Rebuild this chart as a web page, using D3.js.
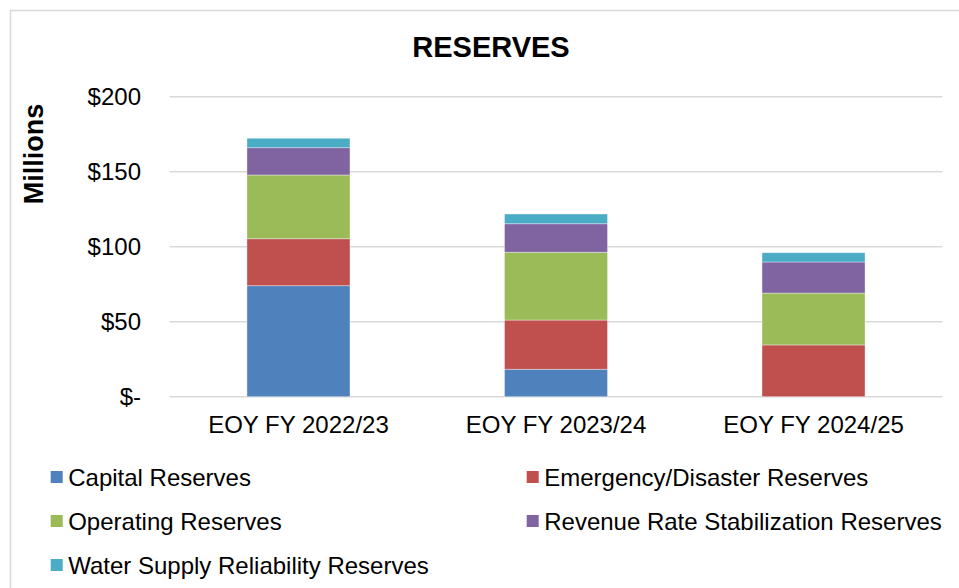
<!DOCTYPE html>
<html>
<head>
<meta charset="utf-8">
<script src="https://cdn.jsdelivr.net/npm/d3@7/dist/d3.min.js"></script>
<style>
  html, body { margin: 0; padding: 0; background: #fff; }
  svg { display: block; font-family: "Liberation Sans", Arial, sans-serif; }
</style>
</head>
<body>
<svg id="chart" width="959" height="588"></svg>
<script>
// Reserve balances at end of each fiscal year, in $ millions
const categories = ["EOY FY 2022/23", "EOY FY 2023/24", "EOY FY 2024/25"];
const seriesNames = [
  "Capital Reserves",
  "Emergency/Disaster Reserves",
  "Operating Reserves",
  "Revenue Rate Stabilization Reserves",
  "Water Supply Reliability Reserves"
];
const capital     = [74.0, 18.3, 0];
const emergency   = [31.3, 32.8, 34.5];
const operating   = [42.5, 45.2, 34.6];
const revenueRate = [18.2, 19.0, 20.7];
const waterSupply = [6.3, 6.5, 6.2];
const yTicks = [0, 50, 100, 150, 200];
const colors = ["#4F81BD", "#C0504D", "#9BBB59", "#8064A2", "#4BACC6"];

const seriesValues = [capital, emergency, operating, revenueRate, waterSupply];
const rows = categories.map((c, i) => {
  const r = { category: c };
  seriesNames.forEach((s, k) => { r[s] = seriesValues[k][i]; });
  return r;
});

const svg = d3.select("#chart");
const plot = { left: 169.7, right: 942.3, top: 96.7, bottom: 396.7 };
const labelSize = 24;

// chart frame
svg.append("rect")
  .attr("x", 10.5).attr("y", 10.5)
  .attr("width", 1000).attr("height", 1000)
  .attr("fill", "#fff").attr("stroke", "#D9D9D9").attr("stroke-width", 1.5);

const x = d3.scaleBand()
  .domain(categories)
  .range([plot.left, plot.right])
  .paddingInner(0.6)
  .paddingOuter(0.3);

const y = d3.scaleLinear()
  .domain([0, 200])
  .range([plot.bottom, plot.top]);

// horizontal gridlines
svg.append("g")
  .selectAll("line")
  .data(yTicks)
  .join("line")
  .attr("x1", plot.left).attr("x2", plot.right)
  .attr("y1", d => y(d)).attr("y2", d => y(d))
  .attr("stroke", "#D9D9D9").attr("stroke-width", 1.6);

// y axis labels
const yAxis = d3.axisLeft(y)
  .tickValues(yTicks)
  .tickSize(0)
  .tickPadding(0)
  .tickFormat(d => d === 0 ? "$-" : "$" + d);
svg.append("g")
  .attr("transform", `translate(141,0)`)
  .call(yAxis)
  .call(g => g.select(".domain").remove())
  .call(g => g.selectAll("text")
    .attr("font-size", labelSize)
    .attr("font-family", "'Liberation Sans', Arial, sans-serif")
    .attr("fill", "#000"));

// stacked bars
const stack = d3.stack().keys(seriesNames);
const layers = stack(rows);
svg.append("g")
  .selectAll("g")
  .data(layers)
  .join("g")
  .attr("fill", (d, i) => colors[i])
  .selectAll("rect")
  .data(d => d)
  .join("rect")
  .attr("x", d => x(d.data.category))
  .attr("width", x.bandwidth())
  .attr("y", d => y(d[1]))
  .attr("height", d => y(d[0]) - y(d[1]))
  .attr("stroke", "#fff")
  .attr("stroke-opacity", d => (d[1] - d[0]) > 0 ? 0.45 : 0)
  .attr("stroke-width", 0.8);

// x axis labels
const xAxis = d3.axisBottom(x).tickSize(0).tickPadding(0);
svg.append("g")
  .attr("transform", `translate(0,${plot.bottom})`)
  .call(xAxis)
  .call(g => g.select(".domain").remove())
  .call(g => g.selectAll("text")
    .attr("y", 36)
    .attr("dy", 0)
    .attr("font-size", labelSize)
    .attr("font-family", "'Liberation Sans', Arial, sans-serif")
    .attr("fill", "#000"));

// title
svg.append("text")
  .attr("x", 491).attr("y", 57)
  .attr("text-anchor", "middle")
  .attr("font-size", 29).attr("font-weight", "bold")
  .attr("fill", "#000")
  .text("RESERVES");

// y axis title
svg.append("text")
  .attr("transform", "translate(43,154) rotate(-90)")
  .attr("text-anchor", "middle")
  .attr("font-size", 27).attr("font-weight", "bold")
  .attr("fill", "#000")
  .text("Millions");

// legend
const legendPos = [
  { x: 50.7, y: 477 }, { x: 526.7, y: 477 },
  { x: 50.7, y: 521 }, { x: 526.7, y: 521 },
  { x: 50.7, y: 565 }
];
const legend = svg.append("g")
  .selectAll("g")
  .data(seriesNames)
  .join("g")
  .attr("transform", (d, i) => `translate(${legendPos[i].x},${legendPos[i].y})`);
legend.append("rect")
  .attr("x", 0).attr("y", -6)
  .attr("width", 12).attr("height", 12)
  .attr("fill", (d, i) => colors[i]);
legend.append("text")
  .attr("x", 17.5).attr("y", 8.5)
  .attr("font-size", labelSize)
  .attr("fill", "#000")
  .text(d => d);
</script>
</body>
</html>
